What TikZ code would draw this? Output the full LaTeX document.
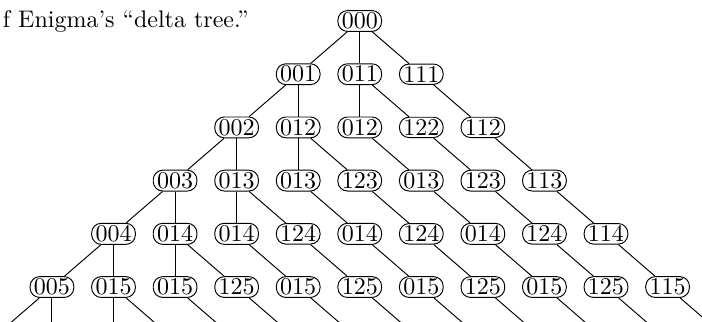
\documentclass[tikz,border=0pt]{standalone}
\usetikzlibrary{positioning}

\begin{document}
\begin{tikzpicture}[node distance=22.17pt and 25.65pt,on grid]
      \tikzset{delta/.style={draw,rectangle,rounded corners=4pt,inner xsep=1.6pt,inner ysep=0.9pt}}
      \useasboundingbox (-149.9pt,-125.4pt) rectangle (142.6pt,8.75pt);
      \clip (-149.9pt,-125.4pt) rectangle (142.6pt,8.75pt);

      \node[anchor=base west,inner sep=0pt] (cap) at (-148.9pt,-2.6pt) {f Enigma’s “delta tree.”};

      \node[delta] (d000) {000};

      \node[delta] (d001) [below left = of d000] {001};
      \node[delta] (d011) [below = of d000] {011};
      \node[delta] (d111) [below right = of d000] {111};

      \node[delta] (d002) [below left = of d001] {002};
      \node[delta] (d012a) [below = of d001] {012};
      \node[delta] (d012b) [below = of d011] {012};
      \node[delta] (d122) [below right = of d011] {122};
      \node[delta] (d112) [below right = of d111] {112};

      \node[delta] (d003) [below left = of d002] {003};
      \node[delta] (d013a) [below = of d002] {013};
      \node[delta] (d013b) [below = of d012a] {013};
      \node[delta] (d123a) [below right = of d012a] {123};
      \node[delta] (d013c) [below right = of d012b] {013};
      \node[delta] (d123b) [below right = of d122] {123};
      \node[delta] (d113) [below right = of d112] {113};

      \node[delta] (d004) [below left = of d003] {004};
      \node[delta] (d014a) [below = of d003] {014};
      \node[delta] (d014b) [below = of d013a] {014};
      \node[delta] (d124a) [below right = of d013a] {124};
      \node[delta] (d014c) [below right = of d013b] {014};
      \node[delta] (d124b) [below right = of d123a] {124};
      \node[delta] (d014d) [below right = of d013c] {014};
      \node[delta] (d124c) [below right = of d123b] {124};
      \node[delta] (d114) [below right = of d113] {114};

      \node[delta] (d005) [below left = of d004] {005};
      \node[delta] (d015a) [below = of d004] {015};
      \node[delta] (d015b) [below = of d014a] {015};
      \node[delta] (d125a) [below right = of d014a] {125};
      \node[delta] (d015c) [below right = of d014b] {015};
      \node[delta] (d125b) [below right = of d124a] {125};
      \node[delta] (d015d) [below right = of d014c] {015};
      \node[delta] (d125c) [below right = of d124b] {125};
      \node[delta] (d015e) [below right = of d014d] {015};
      \node[delta] (d125d) [below right = of d124c] {125};
      \node[delta] (d115) [below right = of d114] {115};

      % loose ends below the last row
      \coordinate [below left = of d005] (d005l);
      \coordinate [below = of d005] (d005s);
      \coordinate [below = of d015a] (d015as);
      \coordinate [below right = of d015a] (d015ar);
      \coordinate [below right = of d015b] (d015br);
      \coordinate [below right = of d125a] (d125ar);
      \coordinate [below right = of d015c] (d015cr);
      \coordinate [below right = of d125b] (d125br);
      \coordinate [below right = of d015d] (d015dr);
      \coordinate [below right = of d125c] (d125cr);
      \coordinate [below right = of d015e] (d015er);
      \coordinate [below right = of d125d] (d125dr);
      \coordinate [below right = of d115] (d115r);

      \path
      (d000) edge (d001) edge (d011) edge (d111)
      (d001) edge (d002) edge (d012a)
      (d011) edge (d012b) edge (d122)
      (d111) edge (d112)
      (d002) edge (d003) edge (d013a)
      (d012a) edge (d013b) edge (d123a)
      (d012b) edge (d013c)
      (d122) edge (d123b)
      (d112) edge (d113)
      (d003) edge (d004) edge (d014a)
      (d013a) edge (d014b) edge (d124a)
      (d013b) edge (d014c)
      (d123a) edge (d124b)
      (d013c) edge (d014d)
      (d123b) edge (d124c)
      (d113) edge (d114)
      (d004) edge (d005) edge (d015a)
      (d014a) edge (d015b) edge (d125a)
      (d014b) edge (d015c)
      (d124a) edge (d125b)
      (d014c) edge (d015d)
      (d124b) edge (d125c)
      (d014d) edge (d015e)
      (d124c) edge (d125d)
      (d114) edge (d115)
      (d005) edge (d005l) edge (d005s)
      (d015a) edge (d015as) edge (d015ar)
      (d015b) edge (d015br)
      (d125a) edge (d125ar)
      (d015c) edge (d015cr)
      (d125b) edge (d125br)
      (d015d) edge (d015dr)
      (d125c) edge (d125cr)
      (d015e) edge (d015er)
      (d125d) edge (d125dr)
      (d115) edge (d115r)
      ;
\end{tikzpicture}
\end{document}
